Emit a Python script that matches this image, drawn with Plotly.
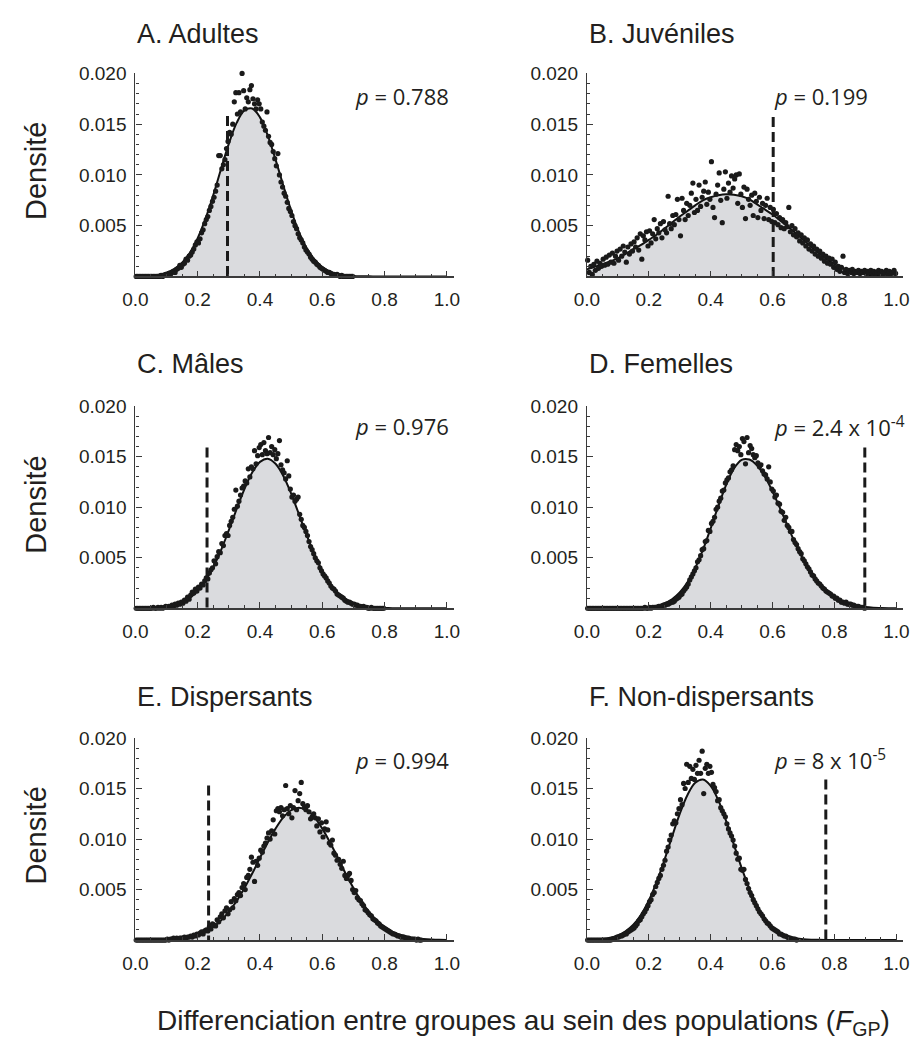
import numpy as np
import plotly.graph_objects as go

# ---------------- data (density values stored in units of 1e-5) ----------------
SCALE = 1e-5
CURVE_X = np.round(np.linspace(0, 1, 41), 3)      # fitted-curve sample positions
DOT_X0, DOT_STEP = 0.0025, 0.005                   # histogram bin centres

titles = ["A. Adultes", "B. Juvéniles", "C. Mâles", "D. Femelles",
          "E. Dispersants", "F. Non-dispersants"]
p_labels = ["<i>p</i> = 0.788", "<i>p</i> = 0.199", "<i>p</i> = 0.976",
            "<i>p</i> = 2.4 x 10<sup>-4</sup>", "<i>p</i> = 0.994",
            "<i>p</i> = 8 x 10<sup>-5</sup>"]
observed = [0.2956, 0.602, 0.230, 0.898, 0.235, 0.772]
observed_top = [0.0158, 0.0157, 0.0159, 0.0159, 0.0153, 0.0159]

x_ticks = [0.0, 0.2, 0.4, 0.6, 0.8, 1.0]
x_ticktext = ["0.0", "0.2", "0.4", "0.6", "0.8", "1.0"]
y_ticks = [0.005, 0.010, 0.015, 0.020]
y_ticktext = ["0.005", "0.010", "0.015", "0.020"]

a_curve = [1, 3, 8, 18, 38, 75, 136, 234, 377, 569, 802, 1059, 1308, 1512, 1635, 1654,
           1567, 1388, 1151, 894, 649, 440, 280, 167, 93, 48, 24, 11, 5, 2, 1,
           0, 0, 0, 0, 0, 0, 0, 0, 0, 0]
b_curve = [70, 95, 120, 148, 178, 222, 270, 310, 360, 410, 470, 530, 590, 645, 700, 750,
           780, 800, 810, 805, 790, 760, 710, 660, 610, 550, 490, 425, 360, 290, 230,
           170, 120, 80, 55, 35, 20, 10, 5, 2, 0]
c_curve = [0, 1, 4, 8, 16, 31, 58, 103, 172, 272, 407, 576, 773, 981, 1180, 1344,
           1449, 1480, 1430, 1309, 1135, 931, 724, 532, 371, 245, 153, 91, 51, 27, 13,
           6, 3, 1, 0, 0, 0, 0, 0, 0, 0]
d_curve = [0, 0, 0, 0, 0, 1, 2, 5, 11, 24, 48, 89, 156, 257, 398, 579, 791, 1014, 1221,
           1382, 1469, 1472, 1413, 1304, 1155, 983, 805, 632, 477, 346, 241, 162, 104,
           64, 38, 22, 12, 6, 3, 1, 0]
e_curve = [0, 0, 1, 2, 5, 10, 18, 31, 52, 84, 130, 195, 280, 386, 515, 659, 814, 966,
           1103, 1214, 1285, 1310, 1285, 1214, 1103, 966, 814, 659, 515, 386, 280, 195,
           130, 84, 52, 31, 18, 10, 5, 2, 1]
f_curve = [2, 5, 11, 24, 47, 87, 152, 251, 390, 571, 787, 1021, 1248, 1436, 1557, 1589,
           1527, 1382, 1178, 945, 714, 508, 341, 215, 128, 72, 38, 19, 9, 4, 2, 1,
           0, 0, 0, 0, 0, 0, 0, 0, 0]

a_dots = [0] * 16 + [
    10, 0, 10, 20, 20, 30, 20, 40, 50, 40, 70, 80, 110, 90, 120, 130, 170, 160, 200, 210,
    240, 270, 310, 340, 330, 370, 430, 460, 520, 560, 590, 650, 690, 740, 780, 840, 900,
    1190, 1190, 1060, 1100, 1150, 1260, 1330, 1420, 1400, 1500, 1720, 1810, 1600, 1810,
    1620, 2000, 1830, 1650, 1760, 1720, 1840, 1880, 1750, 1700, 1650, 1740, 1700, 1650,
    1520, 1480, 1440, 1620, 1380, 1320, 1300, 1230, 1160, 1090, 1210, 1000, 930, 880, 820,
    790, 730, 670, 640, 600, 540, 500, 470, 420, 380, 360, 330, 290, 260, 240, 220, 190,
    170, 150, 140, 120, 110, 90, 80, 70, 60, 50, 40, 40, 30, 20, 20, 10, 20, 10, 0, 10,
    0, 0, 0, 0, 0, 0, 0]
b_dots = [
    160, 40, 100, 20, 120, 60, 150, 80, 130, 100,
    170, 110, 190, 120, 210, 140, 230, 130, 200, 250,
    160, 270, 200, 300, 240, 140, 290, 220, 320, 250,
    340, 290, 380, 260, 420, 170, 400, 360, 440, 300,
    450, 330, 420, 560, 370, 470, 430, 520, 380, 540,
    460, 430, 790, 520, 470, 600, 510, 610, 760, 560,
    400, 770, 650, 560, 720, 600, 700, 820, 920, 630,
    760, 650, 900, 690, 780, 840, 930, 710, 830, 760,
    1130, 680, 580, 810, 900, 1020, 750, 530, 860, 1030,
    770, 920, 830, 990, 870, 960, 1000, 720, 1010, 810,
    680, 880, 570, 860, 760, 700, 800, 600, 820, 740,
    580, 780, 650, 720, 570, 700, 770, 560, 680, 540,
    660, 530, 620, 510, 580, 480, 560, 470, 530, 490,
    680, 440, 500, 410, 470, 390, 430, 350, 410, 330,
    380, 300, 360, 270, 320, 250, 300, 220, 270, 200,
    250, 180, 220, 150, 200, 130, 180, 120, 170, 90,
    140, 70, 100, 50, 90, 200, 40, 70, 30, 60,
    40, 70, 30, 50, 40, 60, 30, 50, 40, 60,
    30, 50, 40, 60, 30, 50, 30, 40, 60, 30,
    50, 30, 40, 60, 20, 50, 30, 40, 60, 30]
c_dots = [0] * 10 + [
    0, 10, 0, 0, 10, 0, 10, 0, 10, 20,
    10, 20, 10, 30, 20, 40, 30, 50, 40, 60,
    50, 80, 70, 110, 90, 130, 160, 150, 190, 170,
    210, 200, 240, 230, 270, 300, 290, 350, 380, 400,
    470, 440, 510, 560, 550, 640, 620, 720, 740, 720,
    820, 860, 900, 980, 1170, 1010, 1060, 1120, 1190, 1210,
    1260, 1240, 1380, 1300, 1400, 1380, 1560, 1430, 1510, 1590,
    1620, 1520, 1640, 1560, 1530, 1690, 1540, 1600, 1520, 1570,
    1480, 1530, 1660, 1420, 1370, 1340, 1280, 1460, 1310, 1180,
    1100, 1120, 1060, 1080, 1100, 930, 880, 820, 800, 760,
    720, 660, 610, 580, 540, 500, 470, 450, 400, 370,
    340, 320, 300, 270, 250, 220, 200, 190, 170, 140,
    130, 120, 110, 100, 80, 70, 60, 60, 50, 40,
    40, 30, 30, 20, 20, 10, 20, 10, 10, 0,
    0, 10, 0, 0, 0, 0, 0, 0, 0, 0]
d_dots = [0] * 30 + [
    0, 0, 0, 0, 0, 0, 0, 10, 0, 0,
    10, 0, 10, 10, 10, 10, 20, 20, 20, 30,
    30, 40, 40, 50, 60, 60, 70, 90, 100, 110,
    130, 140, 170, 190, 210, 240, 280, 310, 340, 370,
    400, 460, 480, 520, 580, 590, 660, 670, 770, 760,
    840, 860, 900, 980, 1000, 1060, 1090, 1160, 1170, 1240,
    1270, 1290, 1350, 1370, 1410, 1570, 1620, 1560, 1600, 1520,
    1680, 1650, 1430, 1690, 1540, 1610, 1580, 1520, 1490, 1510,
    1440, 1400, 1420, 1360, 1330, 1320, 1280, 1400, 1250, 1180,
    1160, 1100, 1120, 1040, 1030, 960, 950, 870, 900, 820,
    800, 760, 760, 680, 650, 630, 590, 560, 540, 490,
    470, 440, 410, 390, 360, 330, 320, 290, 270, 250,
    240, 220, 200, 190, 170, 160, 150, 140, 120, 120,
    100, 100, 80, 80, 60, 60, 50, 60, 40, 40,
    40, 30, 30, 20, 20, 20, 10, 10, 10, 0]
e_dots = [0] * 20 + [
    10, 0, 10, 10, 20, 10, 20, 10, 20, 20,
    20, 30, 20, 30, 30, 40, 30, 50, 40, 60,
    50, 70, 80, 60, 90, 100, 90, 130, 110, 160,
    150, 140, 200, 180, 230, 260, 220, 290, 320, 260,
    300, 380, 320, 410, 390, 450, 470, 440, 520, 560,
    500, 620, 640, 700, 820, 770, 580, 780, 740, 810,
    890, 870, 930, 960, 1010, 1060, 1000, 1080, 1190, 1050,
    1280, 1300, 1270, 1310, 1230, 1290, 1530, 1300, 1250, 1330,
    1210, 1310, 1480, 1290, 1380, 1450, 1560, 1350, 1310, 1290,
    1330, 1270, 1200, 1220, 1250, 1210, 1130, 1200, 1070, 1160,
    1020, 1100, 1170, 1090, 960, 940, 990, 860, 840, 790,
    800, 750, 710, 780, 640, 610, 640, 660, 590, 500,
    470, 490, 420, 400, 390, 360, 340, 300, 290, 270,
    250, 240, 210, 200, 190, 170, 160, 140, 130, 120,
    110, 100, 90, 80, 70, 60, 60, 50, 40, 40,
    30, 30, 30, 20, 20, 20, 10, 10, 10, 10,
    0, 10, 0, 0]
f_dots = [0] * 15 + [
    0, 10, 10, 20, 30,
    30, 40, 40, 50, 60, 60, 80, 90, 100, 110,
    120, 140, 160, 190, 200, 230, 260, 280, 310, 340,
    380, 400, 450, 470, 530, 570, 610, 640, 700, 740,
    790, 880, 920, 990, 1040, 1150, 1180, 1160, 1250, 1300,
    1390, 1340, 1550, 1500, 1740, 1560, 1720, 1600, 1690, 1590,
    1730, 1650, 1780, 1650, 1870, 1450, 1700, 1740, 1650, 1720,
    1660, 1540, 1510, 1470, 1380, 1390, 1310, 1280, 1250, 1220,
    1150, 1100, 1060, 1030, 990, 930, 860, 800, 810, 700,
    690, 700, 600, 560, 510, 470, 440, 400, 370, 340,
    310, 280, 260, 240, 210, 190, 170, 160, 140, 120,
    110, 100, 90, 80, 60, 60, 50, 40, 40, 30,
    20, 20, 10, 10, 10, 0]

curves = [a_curve, b_curve, c_curve, d_curve, e_curve, f_curve]
dots = [a_dots, b_dots, c_dots, d_dots, e_dots, f_dots]

# ---------------- layout geometry ----------------
W, H = 918, 1050
col_dom = [[125 / W, 450 / W], [586 / W, 909 / W]]
row_px = [(64, 269), (400, 604), (735, 939)]           # (top, baseline) in px
row_dom = [[1 - b / H, 1 - t / H] for t, b in row_px]
title_y = [24, 357, 694]
p_y = [87, 420, 757]
dens_y = [163, 500, 834]

TXT = "#231f20"
AX = "#3a3a3a"
SANS = "Liberation Sans, Arial, Helvetica, sans-serif"

fig = go.Figure()
layout = dict(width=W, height=H, autosize=False,
              margin=dict(l=0, r=0, t=0, b=0),
              paper_bgcolor="white", plot_bgcolor="white",
              showlegend=False, font=dict(family=SANS, color=TXT))
annotations = []

for i in range(6):
    r, c = divmod(i, 2)
    ax = "" if i == 0 else str(i + 1)
    xref, yref = "x" + ax, "y" + ax
    cy = np.array(curves[i]) * SCALE
    dy = np.array(dots[i]) * SCALE
    dx = DOT_X0 + DOT_STEP * np.arange(len(dy))

    fig.add_trace(go.Scatter(x=CURVE_X, y=cy, mode="lines", fill="tozeroy",
                             fillcolor="#dadbde",
                             line=dict(color="#111111", width=2, shape="spline", smoothing=1.0),
                             xaxis=xref, yaxis=yref, hoverinfo="skip"))
    fig.add_trace(go.Scatter(x=dx, y=dy, mode="markers", cliponaxis=False,
                             marker=dict(color="#1a1a1a", size=5.2, line=dict(width=0)),
                             xaxis=xref, yaxis=yref))
    fig.add_trace(go.Scatter(x=[observed[i], observed[i]], y=[observed_top[i], 0],
                             mode="lines", line=dict(color="#1a1a1a", width=3, dash="10px,5px"),
                             xaxis=xref, yaxis=yref, hoverinfo="skip"))

    layout["xaxis" + ax] = dict(
        domain=col_dom[c], range=[0, 1.022], anchor=yref, showgrid=False, zeroline=False,
        showline=True, linecolor=AX, linewidth=1.5, ticks="inside", ticklen=6,
        tickwidth=1, tickcolor=AX, tickmode="array", tickvals=x_ticks, ticktext=x_ticktext,
        tickfont=dict(size=19, family=SANS, color=TXT), ticklabelstandoff=5,
        minor=dict(ticks="inside", ticklen=3, tickwidth=1, tickcolor=AX,
                   tickmode="linear", tick0=0, dtick=0.05, showgrid=False))
    layout["yaxis" + ax] = dict(
        domain=row_dom[r], range=[0, 0.020], anchor=xref, showgrid=False, zeroline=False,
        showline=True, linecolor=AX, linewidth=1.2, ticks="inside", ticklen=6,
        tickwidth=1, tickcolor=AX, tickmode="array", tickvals=y_ticks, ticktext=y_ticktext,
        tickfont=dict(size=19, family=SANS, color=TXT), ticklabelstandoff=4,
        minor=dict(ticks="inside", ticklen=3, tickwidth=1, tickcolor=AX,
                   tickmode="linear", tick0=0, dtick=0.001, showgrid=False))

    # panel title
    annotations.append(dict(text=titles[i], xref="paper", yref="paper",
                            x=col_dom[c][0], y=1 - title_y[r] / H,
                            xanchor="left", yanchor="middle", showarrow=False,
                            font=dict(size=27, family=SANS, color=TXT)))
    # p-value
    if c == 0:
        px_, xa = 447 / W, "right"
    else:
        px_, xa = 775 / W, "left"
    annotations.append(dict(text=p_labels[i], xref="paper", yref="paper",
                            x=px_, y=1 - p_y[r] / H, xanchor=xa, yanchor="middle",
                            showarrow=False,
                            font=dict(size=22, family="Open Sans, Noto Sans, sans-serif",
                                      color=TXT)))

for r in range(3):
    annotations.append(dict(text="Densité", xref="paper", yref="paper",
                            x=24 / W, y=1 - dens_y[r] / H, textangle=-90,
                            xanchor="center", yanchor="middle", showarrow=False,
                            font=dict(size=29, family=SANS, color=TXT)))

annotations.append(dict(
    text="Differenciation entre groupes au sein des populations (<i>F</i><sub>GP</sub>)",
    xref="paper", yref="paper", x=521 / W, y=1 - 1022 / H,
    xanchor="center", yanchor="middle", showarrow=False,
    font=dict(size=28, family=SANS, color=TXT)))

layout["annotations"] = annotations
fig.update_layout(**layout)
fig.write_html(
    "out.html",
    config={"responsive": False},
    post_script="document.body.style.margin='0';document.body.style.padding='0';"
                "document.body.style.overflow='hidden';",
)
